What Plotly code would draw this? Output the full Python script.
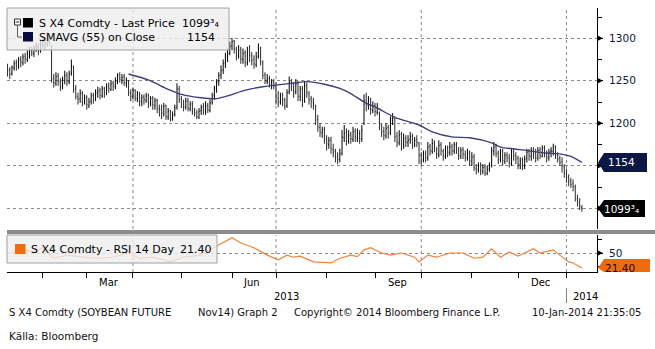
import plotly.graph_objects as go
import pandas as pd

# ---------------- data ----------------
dates = pd.bdate_range("2013-01-10", "2014-01-10")  # daily bars

closes = [
    1262, 1258, 1266, 1270, 1268, 1274, 1272, 1278, 1276, 1282,
    1285, 1283, 1288, 1290, 1286, 1292, 1296, 1293, 1300, 1298,
    1252, 1248, 1255, 1250, 1243, 1251, 1256, 1250, 1258, 1268,
    1240, 1232, 1228, 1235, 1226, 1230, 1222, 1225, 1232, 1228,
    1236, 1238, 1233, 1240, 1236, 1243, 1241, 1246, 1244, 1250,
    1256, 1252, 1254, 1248, 1250, 1236, 1232, 1238, 1230, 1233,
    1226, 1230, 1228, 1232, 1224, 1229, 1222, 1226, 1218, 1216,
    1212, 1220, 1208, 1214, 1206, 1210, 1218, 1240, 1228, 1224,
    1220, 1226, 1218, 1222, 1214, 1212, 1208, 1214, 1218, 1215,
    1220, 1216, 1224, 1232, 1240, 1248, 1256, 1262, 1270, 1278,
    1282, 1290, 1296, 1288, 1280, 1286, 1276, 1282, 1272, 1284,
    1280, 1274, 1270, 1278, 1288, 1272, 1256, 1250, 1252, 1246,
    1248, 1244, 1230, 1226, 1232, 1228, 1220, 1236, 1248, 1244,
    1238, 1246, 1232, 1240, 1228, 1244, 1236, 1228, 1226, 1222,
    1204, 1196, 1190, 1192, 1182, 1176, 1180, 1170, 1166, 1160,
    1158, 1164, 1184, 1188, 1180, 1186, 1182, 1190, 1184, 1188,
    1182, 1192, 1226, 1222, 1228, 1216, 1220, 1214, 1218, 1196,
    1190, 1186, 1194, 1188, 1204, 1206, 1184, 1178, 1186, 1176,
    1182, 1178, 1180, 1184, 1176, 1180, 1178, 1162, 1158, 1164,
    1160, 1172, 1168, 1176, 1170, 1164, 1174, 1168, 1162, 1170,
    1166, 1172, 1168, 1174, 1170, 1162, 1168, 1164, 1160, 1165,
    1156, 1160, 1148, 1146, 1150, 1144, 1148, 1142, 1146, 1150,
    1168, 1172, 1164, 1158, 1166, 1156, 1162, 1160, 1154, 1166,
    1162, 1158, 1152, 1156, 1150, 1158, 1166, 1162, 1168, 1164,
    1160, 1168, 1162, 1170, 1164, 1160, 1166, 1168, 1172, 1162,
    1158, 1154, 1150, 1142, 1136, 1132, 1128, 1126, 1112, 1106,
    1102, 1099.75,
]
opens = [
    1266, 1263, 1259, 1265, 1271, 1267, 1275, 1271, 1279, 1275,
    1281, 1286, 1282, 1289, 1291, 1285, 1293, 1297, 1292, 1301,
    1290, 1253, 1247, 1256, 1249, 1244, 1250, 1257, 1249, 1259,
    1266, 1241, 1231, 1229, 1236, 1225, 1231, 1221, 1226, 1233,
    1229, 1235, 1239, 1232, 1241, 1235, 1244, 1240, 1247, 1243,
    1249, 1257, 1251, 1255, 1247, 1249, 1235, 1231, 1239, 1229,
    1234, 1225, 1231, 1227, 1233, 1223, 1230, 1221, 1227, 1217,
    1217, 1211, 1221, 1207, 1215, 1205, 1211, 1219, 1241, 1229,
    1225, 1219, 1227, 1217, 1223, 1213, 1213, 1207, 1215, 1219,
    1214, 1221, 1215, 1225, 1233, 1241, 1249, 1257, 1263, 1271,
    1279, 1283, 1291, 1297, 1287, 1279, 1287, 1275, 1283, 1271,
    1285, 1279, 1275, 1269, 1279, 1289, 1271, 1257, 1249, 1253,
    1245, 1249, 1243, 1229, 1225, 1233, 1227, 1221, 1237, 1249,
    1243, 1237, 1247, 1231, 1241, 1227, 1245, 1235, 1229, 1225,
    1220, 1205, 1195, 1189, 1193, 1181, 1175, 1181, 1169, 1167,
    1161, 1157, 1165, 1183, 1189, 1179, 1187, 1181, 1191, 1183,
    1189, 1181, 1200, 1227, 1221, 1229, 1215, 1221, 1213, 1212,
    1197, 1191, 1185, 1195, 1189, 1203, 1205, 1185, 1177, 1187,
    1175, 1183, 1177, 1181, 1185, 1175, 1181, 1177, 1163, 1157,
    1165, 1159, 1173, 1167, 1177, 1169, 1163, 1175, 1167, 1161,
    1171, 1165, 1173, 1167, 1175, 1169, 1161, 1169, 1163, 1159,
    1166, 1155, 1161, 1147, 1145, 1151, 1143, 1149, 1141, 1147,
    1151, 1167, 1173, 1165, 1157, 1167, 1155, 1163, 1159, 1153,
    1167, 1161, 1159, 1151, 1157, 1149, 1159, 1167, 1161, 1169,
    1165, 1159, 1169, 1161, 1171, 1163, 1159, 1167, 1167, 1173,
    1163, 1159, 1155, 1149, 1141, 1137, 1131, 1129, 1125, 1111,
    1107, 1101,
]
highs = [
    1270, 1266, 1268, 1274, 1275, 1278, 1279, 1282, 1283, 1286,
    1290, 1290, 1292, 1295, 1294, 1297, 1302, 1300, 1307, 1305,
    1292, 1258, 1260, 1259, 1253, 1255, 1262, 1260, 1262, 1275,
    1268, 1245, 1236, 1240, 1238, 1234, 1233, 1230, 1236, 1236,
    1240, 1243, 1242, 1244, 1243, 1247, 1248, 1250, 1250, 1254,
    1259, 1260, 1258, 1258, 1254, 1251, 1240, 1242, 1240, 1238,
    1237, 1234, 1234, 1236, 1235, 1232, 1232, 1230, 1229, 1222,
    1222, 1224, 1222, 1218, 1216, 1214, 1222, 1247, 1244, 1232,
    1228, 1230, 1230, 1226, 1226, 1218, 1216, 1218, 1222, 1224,
    1226, 1224, 1228, 1236, 1244, 1252, 1260, 1268, 1275, 1283,
    1288, 1296, 1300, 1298, 1290, 1292, 1290, 1288, 1286, 1290,
    1292, 1284, 1280, 1284, 1294, 1290, 1274, 1260, 1258, 1256,
    1252, 1252, 1248, 1238, 1236, 1236, 1230, 1240, 1255, 1252,
    1248, 1252, 1250, 1244, 1244, 1250, 1248, 1238, 1232, 1230,
    1222, 1210, 1200, 1196, 1196, 1186, 1184, 1184, 1176, 1170,
    1166, 1170, 1192, 1198, 1194, 1192, 1190, 1196, 1194, 1194,
    1192, 1198, 1234, 1236, 1232, 1230, 1226, 1224, 1224, 1214,
    1200, 1196, 1200, 1198, 1208, 1212, 1208, 1190, 1192, 1190,
    1188, 1186, 1186, 1190, 1188, 1184, 1186, 1178, 1166, 1168,
    1168, 1178, 1176, 1182, 1180, 1172, 1180, 1178, 1170, 1174,
    1174, 1178, 1176, 1178, 1178, 1172, 1172, 1172, 1168, 1170,
    1168, 1166, 1164, 1152, 1154, 1154, 1152, 1152, 1150, 1154,
    1172, 1178, 1176, 1168, 1170, 1170, 1166, 1166, 1164, 1170,
    1170, 1166, 1162, 1160, 1160, 1162, 1170, 1170, 1172, 1172,
    1170, 1172, 1172, 1174, 1174, 1168, 1170, 1172, 1176, 1174,
    1166, 1162, 1160, 1152, 1146, 1140, 1136, 1134, 1128, 1116,
    1112, 1104,
]
lows = [
    1255, 1252, 1256, 1262, 1262, 1264, 1266, 1268, 1270, 1272,
    1276, 1279, 1278, 1284, 1280, 1283, 1288, 1286, 1290, 1291,
    1248, 1242, 1244, 1244, 1238, 1240, 1246, 1244, 1246, 1256,
    1236, 1228, 1222, 1224, 1220, 1222, 1216, 1218, 1222, 1223,
    1226, 1230, 1228, 1230, 1230, 1233, 1236, 1238, 1238, 1240,
    1246, 1248, 1246, 1244, 1242, 1232, 1226, 1228, 1226, 1225,
    1220, 1220, 1222, 1224, 1218, 1220, 1216, 1216, 1212, 1208,
    1205, 1208, 1204, 1204, 1202, 1203, 1208, 1216, 1224, 1218,
    1214, 1216, 1214, 1214, 1210, 1208, 1205, 1205, 1210, 1210,
    1210, 1212, 1213, 1222, 1228, 1236, 1244, 1252, 1258, 1265,
    1272, 1280, 1286, 1282, 1274, 1276, 1270, 1270, 1266, 1268,
    1272, 1268, 1264, 1266, 1276, 1268, 1252, 1246, 1246, 1242,
    1240, 1240, 1222, 1219, 1222, 1220, 1216, 1218, 1234, 1238,
    1230, 1234, 1226, 1226, 1219, 1224, 1230, 1222, 1218, 1216,
    1198, 1190, 1184, 1183, 1176, 1168, 1170, 1164, 1160, 1154,
    1152, 1154, 1162, 1178, 1174, 1176, 1176, 1178, 1178, 1178,
    1176, 1178, 1198, 1214, 1216, 1210, 1212, 1208, 1210, 1192,
    1184, 1180, 1182, 1182, 1186, 1198, 1178, 1172, 1174, 1168,
    1170, 1172, 1172, 1176, 1170, 1172, 1172, 1152, 1150, 1154,
    1154, 1156, 1162, 1164, 1166, 1158, 1160, 1162, 1156, 1158,
    1160, 1162, 1162, 1164, 1164, 1157, 1158, 1158, 1155, 1156,
    1150, 1150, 1144, 1140, 1142, 1139, 1140, 1138, 1139, 1143,
    1148, 1162, 1160, 1152, 1154, 1150, 1152, 1154, 1148, 1150,
    1156, 1152, 1146, 1146, 1145, 1146, 1154, 1156, 1156, 1158,
    1154, 1156, 1158, 1160, 1160, 1154, 1156, 1160, 1162, 1158,
    1154, 1150, 1142, 1136, 1130, 1126, 1124, 1120, 1108, 1102,
    1098, 1096,
]

# 55-day moving average, read at selected bars (bar index -> value)
sma_idx = [55, 64, 73, 79, 88, 95, 101, 108, 116, 129, 136, 144, 151, 156,
           162, 168, 176, 187, 193, 202, 210, 220, 224, 233, 245, 251, 256, 261]
sma_vals = [1258, 1251, 1240, 1234, 1230, 1229, 1233, 1239, 1243, 1247, 1249,
            1246, 1241, 1235, 1225, 1218, 1207, 1198, 1190, 1184, 1183, 1177,
            1172, 1169, 1165, 1164, 1161, 1154]

# RSI 14 day, read at selected bars
rsi_idx = [1, 6, 12, 16, 21, 27, 35, 42, 48, 55, 60, 66, 74, 80, 88, 94, 102,
           106, 112, 118, 123, 127, 130, 133, 139, 144, 147, 151, 156, 159,
           162, 165, 170, 174, 179, 185, 187, 191, 195, 201, 207, 212, 216,
           220, 224, 228, 232, 235, 239, 242, 248, 251, 255, 257, 261]
rsi_vals = [50, 56, 52, 60, 40, 46, 42, 40, 42, 50, 40, 42, 33, 42, 46, 61, 79,
            69, 60, 46, 37, 46, 42, 44, 33, 31, 31, 40, 46, 43, 56, 60, 50, 46,
            50, 42, 33, 46, 42, 50, 50, 40, 42, 58, 42, 52, 44, 50, 58, 50, 56,
            46, 33, 31, 21.40]

month_ticks = ["2013-02-01", "2013-03-01", "2013-04-01", "2013-05-01",
               "2013-06-03", "2013-07-01", "2013-08-01", "2013-09-02",
               "2013-10-01", "2013-11-01", "2013-12-02", "2014-01-01"]
quarter_lines = ["2013-04-01", "2013-07-01", "2013-10-01", "2014-01-01"]
month_labels = ["Mar", "Jun", "Sep", "Dec"]
month_label_dates = ["2013-03-15", "2013-06-14", "2013-09-16", "2013-12-16"]
price_ticks = [1100, 1150, 1200, 1250, 1300]
price_ticktext = ["", "", "1200", "1250", "1300"]
price_minor = [1125, 1175, 1225, 1275, 1325]
rsi_ticks = [50]
rsi_minor = [25, 75]

last_price = 1099.75
last_price_text = "1099³₄"
sma_last = 1154
rsi_last = 21.40

assert len(closes) == len(opens) == len(highs) == len(lows) == len(dates)

# ---------------- layout helpers ----------------
W, H = 655, 349
L, R, T, B = 7, 58, 8, 77
PW, PH = W - L - R, H - T - B


def px_x(px):
    return (px - L) / PW


def px_y(py):
    return (H - B - py) / PH


Y1 = [1075.7, 1335.6]
Y2 = [13.8, 84.3]
main_top, main_bot = 8, 229
rsi_top, rsi_bot = 235, 272
k1 = (Y1[1] - Y1[0]) / (main_bot - main_top)   # price units per px
k2 = (Y2[1] - Y2[0]) / (rsi_bot - rsi_top)     # rsi units per px

FONT = "DejaVu Sans"
SMA_COL = "#3e3e7c"
RSI_COL = "#f0823a"
GRID = "#8a8a8a"

fig = go.Figure()

fig.add_trace(go.Ohlc(
    x=list(dates), open=opens, high=highs, low=lows, close=closes,
    increasing=dict(line=dict(color="#000000", width=1)),
    decreasing=dict(line=dict(color="#2b2b2b", width=1)),
    tickwidth=0.3, xaxis="x", yaxis="y", showlegend=False, hoverinfo="skip"))

fig.add_trace(go.Scatter(
    x=[dates[i] for i in sma_idx], y=sma_vals, mode="lines",
    line=dict(color=SMA_COL, width=1.4, shape="spline", smoothing=0.7),
    xaxis="x", yaxis="y", showlegend=False, hoverinfo="skip"))

fig.add_trace(go.Scatter(
    x=[dates[i] for i in rsi_idx], y=rsi_vals, mode="lines",
    line=dict(color=RSI_COL, width=1.2),
    xaxis="x", yaxis="y2", showlegend=False, hoverinfo="skip"))

shapes = []
annotations = []

# vertical dotted quarter grid lines
for d in quarter_lines:
    for (y0, y1) in [(px_y(main_bot), 1), (0, px_y(rsi_top))]:
        shapes.append(dict(type="line", xref="x", yref="paper", x0=d, x1=d,
                           y0=y0, y1=y1, layer="below",
                           line=dict(color=GRID, width=1, dash="dot")))

# separator bar between panels
shapes.append(dict(type="rect", xref="paper", yref="paper",
                   x0=0, x1=px_x(W), y0=px_y(234), y1=px_y(230),
                   fillcolor="#8c8c8c", line=dict(width=0), layer="above"))

# axis triangles
for v in price_ticks:
    shapes.append(dict(type="path", xref="paper", yref="y", layer="above",
                       path=f"M {px_x(597)},{v - 3 * k1} L {px_x(597)},{v + 3 * k1} L {px_x(603)},{v} Z",
                       fillcolor="#000", line=dict(width=0)))
for v in rsi_ticks:
    shapes.append(dict(type="path", xref="paper", yref="y2", layer="above",
                       path=f"M {px_x(597)},{v - 3 * k2} L {px_x(597)},{v + 3 * k2} L {px_x(603)},{v} Z",
                       fillcolor="#000", line=dict(width=0)))


# value boxes on the right axis
def value_box(v, k, yref, half_px, right_px, color):
    return dict(type="path", xref="paper", yref=yref, layer="above",
                path=(f"M {px_x(598)},{v} L {px_x(604)},{v + half_px * k} "
                      f"L {px_x(right_px)},{v + half_px * k} L {px_x(right_px)},{v - half_px * k} "
                      f"L {px_x(604)},{v - half_px * k} Z"),
                fillcolor=color, line=dict(width=0))


shapes.append(value_box(sma_last, k1, "y", 9.5, 647, "#0b1845"))
shapes.append(value_box(last_price, k1, "y", 8.5, 645, "#000000"))
# RSI box (clipped at panel bottom)
rb_top = rsi_last + (268 - 259) * k2
shapes.append(dict(type="path", xref="paper", yref="y2", layer="above",
                   path=(f"M {px_x(598)},{rsi_last} L {px_x(604)},{rb_top} L {px_x(650)},{rb_top} "
                         f"L {px_x(650)},{Y2[0]} L {px_x(604)},{Y2[0]} Z"),
                   fillcolor="#f06a10", line=dict(width=0)))

annotations.append(dict(xref="paper", yref="y", x=px_x(621), y=sma_last, text=str(sma_last),
                        showarrow=False, font=dict(family=FONT, size=10.5, color="white"),
                        xanchor="center", yanchor="middle"))
annotations.append(dict(xref="paper", yref="y", x=px_x(621), y=last_price, text=last_price_text,
                        showarrow=False, font=dict(family=FONT, size=10.5, color="white"),
                        xanchor="center", yanchor="middle"))
annotations.append(dict(xref="paper", yref="paper", x=px_x(620), y=px_y(267.5), text=f"{rsi_last:.2f}",
                        showarrow=False, font=dict(family=FONT, size=10.5, color="#1a0a00"),
                        xanchor="center", yanchor="middle"))

# main legend box
shapes.append(dict(type="rect", xref="paper", yref="paper", layer="above",
                   x0=px_x(7), x1=px_x(229), y0=px_y(50), y1=px_y(8),
                   fillcolor="rgba(238,238,238,0.80)", line=dict(color="#a0a0a0", width=1)))
shapes.append(dict(type="rect", xref="paper", yref="paper", layer="above",
                   x0=px_x(14.5), x1=px_x(20.5), y0=px_y(25), y1=px_y(19),
                   fillcolor="white", line=dict(color="#303030", width=1)))
shapes.append(dict(type="line", xref="paper", yref="paper", layer="above",
                   x0=px_x(15.5), x1=px_x(19.5), y0=px_y(22), y1=px_y(22),
                   line=dict(color="#303030", width=1)))
shapes.append(dict(type="path", xref="paper", yref="paper", layer="above",
                   path=f"M {px_x(17.5)},{px_y(25)} L {px_x(17.5)},{px_y(37)} L {px_x(22)},{px_y(37)}",
                   line=dict(color="#606060", width=1)))
shapes.append(dict(type="rect", xref="paper", yref="paper", layer="above",
                   x0=px_x(23), x1=px_x(33), y0=px_y(27.5), y1=px_y(18),
                   fillcolor="#000000", line=dict(width=0)))
shapes.append(dict(type="rect", xref="paper", yref="paper", layer="above",
                   x0=px_x(23), x1=px_x(33), y0=px_y(41.5), y1=px_y(32),
                   fillcolor="#0a0a42", line=dict(width=0)))

LEG_FONT = dict(family=FONT, size=11, color="#000")
annotations += [
    dict(xref="paper", yref="paper", x=px_x(37), y=px_y(23.5), text="S X4 Comdty - Last Price",
         showarrow=False, xanchor="left", yanchor="middle", font=LEG_FONT),
    dict(xref="paper", yref="paper", x=px_x(180), y=px_y(23.5), text=last_price_text,
         showarrow=False, xanchor="left", yanchor="middle", font=LEG_FONT),
    dict(xref="paper", yref="paper", x=px_x(37), y=px_y(37.5), text="SMAVG (55) on Close",
         showarrow=False, xanchor="left", yanchor="middle", font=LEG_FONT),
    dict(xref="paper", yref="paper", x=px_x(185), y=px_y(37.5), text=str(sma_last),
         showarrow=False, xanchor="left", yanchor="middle", font=LEG_FONT),
]

# RSI legend box
shapes.append(dict(type="rect", xref="paper", yref="paper", layer="above",
                   x0=px_x(7), x1=px_x(217), y0=px_y(263), y1=px_y(235),
                   fillcolor="rgba(238,238,238,0.80)", line=dict(color="#a0a0a0", width=1)))
shapes.append(dict(type="rect", xref="paper", yref="paper", layer="above",
                   x0=px_x(15), x1=px_x(25.5), y0=px_y(254), y1=px_y(244),
                   fillcolor="#f06a10", line=dict(width=0)))
annotations += [
    dict(xref="paper", yref="paper", x=px_x(29), y=px_y(249.5), text="S X4 Comdty - RSI 14 Day",
         showarrow=False, xanchor="left", yanchor="middle", font=LEG_FONT),
    dict(xref="paper", yref="paper", x=px_x(178), y=px_y(249.5), text=f"{rsi_last:.2f}",
         showarrow=False, xanchor="left", yanchor="middle", font=LEG_FONT),
]

# month labels and years
AX_FONT = dict(family=FONT, size=10, color="#000")
for lab, d in zip(month_labels, month_label_dates):
    annotations.append(dict(xref="x", yref="paper", x=d, y=px_y(282), text=lab,
                            showarrow=False, xanchor="center", yanchor="middle", font=AX_FONT))
annotations.append(dict(xref="paper", yref="paper", x=px_x(286), y=px_y(296), text="2013",
                        showarrow=False, xanchor="center", yanchor="middle", font=AX_FONT))
annotations.append(dict(xref="paper", yref="paper", x=px_x(571), y=px_y(296), text="2014",
                        showarrow=False, xanchor="left", yanchor="middle", font=AX_FONT))
shapes.append(dict(type="line", xref="x", yref="paper", x0="2014-01-01", x1="2014-01-01",
                   y0=px_y(303), y1=px_y(288), line=dict(color="#808080", width=1)))

# footer
FOOT = dict(family=FONT, size=10, color="#111")
annotations += [
    dict(xref="paper", yref="paper", x=px_x(7), y=px_y(312), text="S X4 Comdty (SOYBEAN FUTURE",
         showarrow=False, xanchor="left", yanchor="middle", font=FOOT),
    dict(xref="paper", yref="paper", x=px_x(196), y=px_y(312), text="Nov14) Graph 2",
         showarrow=False, xanchor="left", yanchor="middle", font=FOOT),
    dict(xref="paper", yref="paper", x=px_x(292), y=px_y(312), text="Copyright© 2014 Bloomberg Finance L.P.",
         showarrow=False, xanchor="left", yanchor="middle", font=FOOT),
    dict(xref="paper", yref="paper", x=px_x(643), y=px_y(312), text="10-Jan-2014 21:35:05",
         showarrow=False, xanchor="right", yanchor="middle", font=FOOT),
    dict(xref="paper", yref="paper", x=px_x(7), y=px_y(336), text="Källa: Bloomberg",
         showarrow=False, xanchor="left", yanchor="middle", font=dict(family=FONT, size=10.5, color="#111")),
]

fig.update_layout(
    width=W, height=H, margin=dict(l=L, r=R, t=T, b=B),
    paper_bgcolor="white", plot_bgcolor="white", showlegend=False,
    xaxis=dict(type="date", anchor="y2", domain=[0, 1],
               range=["2013-01-09 18:00", "2014-01-20 21:00"],
               rangebreaks=[dict(bounds=["sat", "mon"])],
               tickmode="array", tickvals=month_ticks, ticktext=[""] * len(month_ticks),
               ticks="outside", ticklen=5, tickcolor="#000", showgrid=False,
               showline=True, linecolor="#000", linewidth=1, zeroline=False,
               rangeslider=dict(visible=False), fixedrange=True),
    yaxis=dict(domain=[px_y(main_bot), 1], anchor="x", side="right", range=Y1,
               tickmode="array", tickvals=price_ticks, ticktext=price_ticktext,
               ticks="outside", ticklen=5, tickcolor="#000",
               showgrid=True, gridcolor=GRID, griddash="dot", gridwidth=1,
               minor=dict(tickmode="array", tickvals=price_minor, ticks="outside",
                          ticklen=4, tickcolor="#000", showgrid=False),
               showline=True, linecolor="#000", linewidth=1, zeroline=False,
               tickfont=dict(family=FONT, size=10.5, color="#0d1b3a"),
               ticklabelstandoff=4),
    yaxis2=dict(domain=[0, px_y(rsi_top)], anchor="x", side="right", range=Y2,
                tickmode="array", tickvals=rsi_ticks, ticktext=["50"],
                ticks="outside", ticklen=5, tickcolor="#000",
                showgrid=True, gridcolor=GRID, griddash="dot", gridwidth=1,
                minor=dict(tickmode="array", tickvals=rsi_minor, ticks="outside",
                           ticklen=4, tickcolor="#000", showgrid=False),
                showline=True, linecolor="#000", linewidth=1, zeroline=False,
                tickfont=dict(family=FONT, size=10.5, color="#0d1b3a"),
                ticklabelstandoff=4),
    shapes=shapes, annotations=annotations,
)

fig.write_html("out.html")
